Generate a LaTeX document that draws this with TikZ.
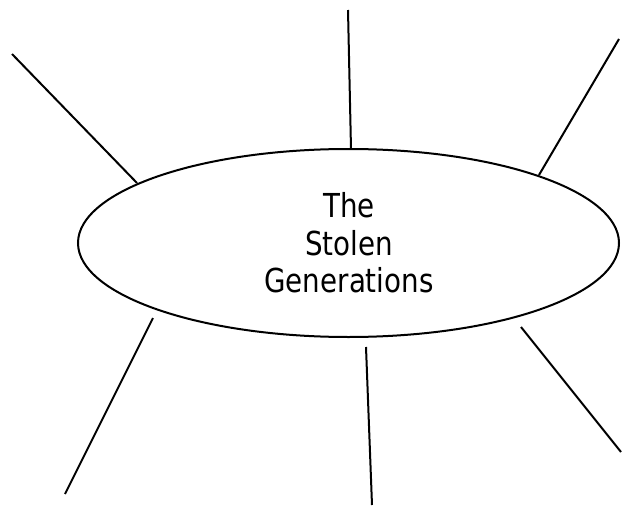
\documentclass[tikz,border=0pt]{standalone}
\usepackage{fontspec}
\newfontfamily\tahlike[FakeStretch=0.84]{DejaVu Sans}
\usetikzlibrary{shapes.geometric}
\tikzset{
  spoke/.style={line width=2pt},
  hub/.style={draw, line width=2pt, ellipse, minimum width=541pt, minimum height=188pt, inner sep=0pt},
  hubtext/.style={align=center, font=\tahlike\fontsize{33}{37.5}\selectfont}
}
\begin{document}
\begin{tikzpicture}[x=1pt,y=-1pt]
\useasboundingbox (0,0) rectangle (622,506);
\node[hub] (e) at (348.5,243) {};
\node[hubtext] (t) at (349,243) {The\\Stolen\\Generations};
% spoke endpoints
\coordinate (ul1) at (12,54);   \coordinate (ul2) at (137,183);
\coordinate (tp1) at (348,10);  \coordinate (tp2) at (351,149);
\coordinate (ur1) at (619,39);  \coordinate (ur2) at (539,175);
\coordinate (ll1) at (153,318); \coordinate (ll2) at (65,494);
\coordinate (bt1) at (366,347); \coordinate (bt2) at (372,505);
\coordinate (lr1) at (521,327); \coordinate (lr2) at (621,452);
\draw[spoke] (ul1) -- (ul2);
\draw[spoke] (tp1) -- (tp2);
\draw[spoke] (ur1) -- (ur2);
\draw[spoke] (ll1) -- (ll2);
\draw[spoke] (bt1) -- (bt2);
\draw[spoke] (lr1) -- (lr2);
\end{tikzpicture}
\end{document}
